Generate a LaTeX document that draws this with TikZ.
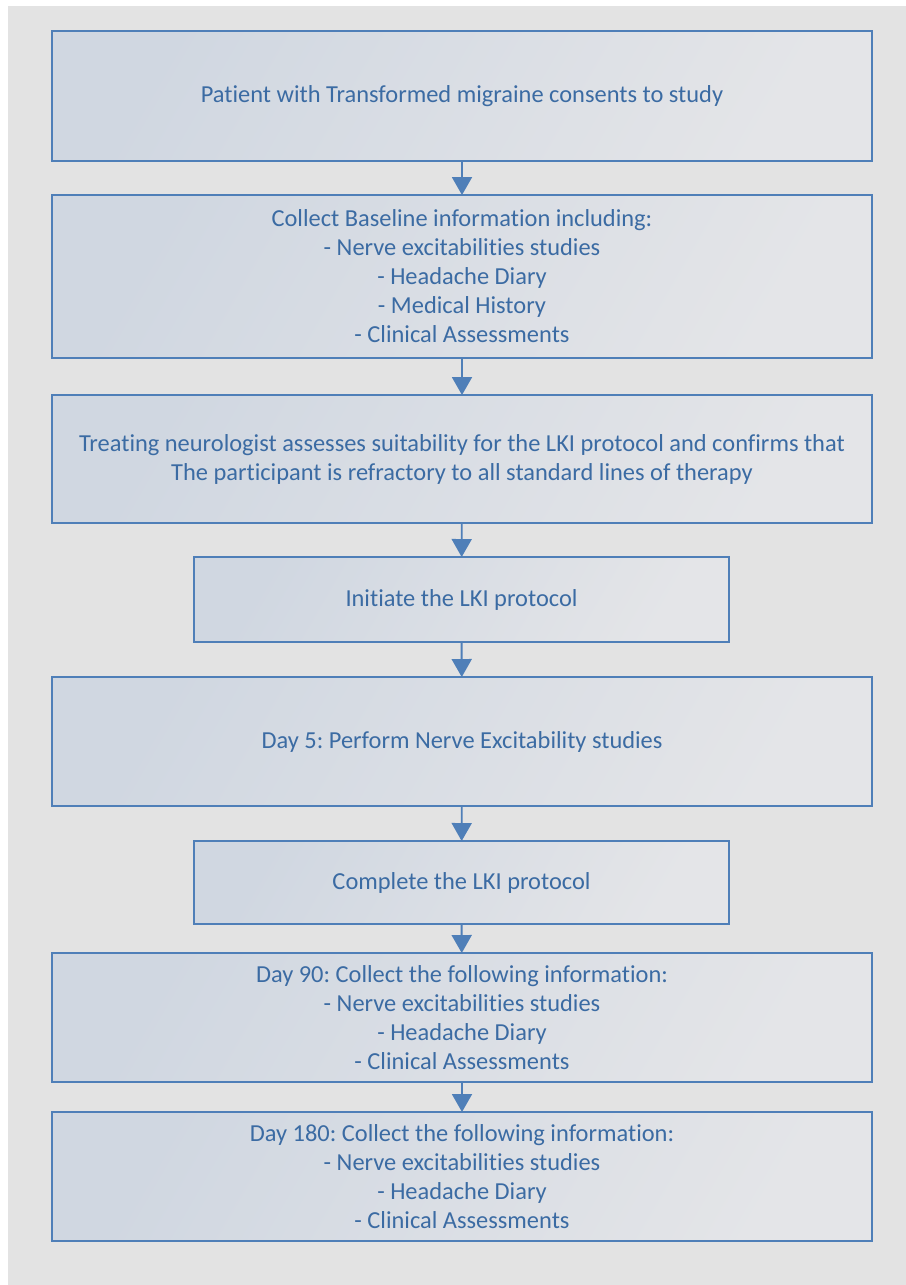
\documentclass[tikz,border=0pt]{standalone}
\usepackage{fontspec}
\setmainfont{Carlito}[Ligatures=NoCommon]
\usetikzlibrary{arrows.meta}
\definecolor{frameblue}{HTML}{4F7FB8}
\definecolor{textblue}{HTML}{3B6BA3}
\definecolor{boxdark}{HTML}{D0D7E1}
\definecolor{boxlight}{HTML}{E4E5E8}
\definecolor{pagegray}{HTML}{E3E3E3}
\frenchspacing

\begin{document}
\begin{tikzpicture}[x=0.02cm, y=-0.02cm,
  every path/.style={line width=1.1pt},
  stage/.style={draw=frameblue, text=textblue, align=center, outer sep=0pt,
    left color=boxdark, right color=boxlight, shading angle=60,
    font=\fontsize{13.9pt}{16.5pt}\selectfont, inner sep=4pt},
  wide/.style={stage, minimum width=16.4cm},
  narrow/.style={stage, minimum width=10.7cm},
  flow/.style={draw=frameblue, -{Triangle[length=0.36cm, width=0.4cm]}}]
\useasboundingbox (0,0) rectangle (906,1285);
\fill[white] (0,0) rectangle (906,1285);
\fill[pagegray] (8,6) rectangle (906,1285);
\node[wide, minimum height=2.6cm] (consent) at (462, 96) {Patient with Transformed migraine consents to study};
\node[wide, minimum height=3.26cm] (baseline) at (462, 276.5) {Collect Baseline information including:\\- Nerve excitabilities studies\\- Headache Diary\\- Medical History\\- Clinical Assessments};
\node[wide, minimum height=2.56cm] (assess) at (462, 459) {Treating neurologist assesses suitability for the LKI protocol and confirms that\\The participant is refractory to all standard lines of therapy};
\node[narrow, minimum height=1.7cm] (initiate) at (461.5, 599.5) {Initiate the LKI protocol};
\node[wide, minimum height=2.58cm] (dayfive) at (462, 741.5) {Day 5: Perform Nerve Excitability studies};
\node[narrow, minimum height=1.66cm] (complete) at (461.5, 882.5) {Complete the LKI protocol};
\node[wide, minimum height=2.58cm] (dayninety) at (462, 1017.5) {Day 90: Collect the following information:\\- Nerve excitabilities studies\\- Headache Diary\\- Clinical Assessments};
\node[wide, minimum height=2.58cm] (dayoneeighty) at (462, 1176.5) {Day 180: Collect the following information:\\- Nerve excitabilities studies\\- Headache Diary\\- Clinical Assessments};
\draw[flow] (consent) -- (baseline);
\draw[flow] (baseline) -- (assess);
\draw[flow] (assess) -- (initiate);
\draw[flow] (initiate) -- (dayfive);
\draw[flow] (dayfive) -- (complete);
\draw[flow] (complete) -- (dayninety);
\draw[flow] (dayninety) -- (dayoneeighty);
\end{tikzpicture}
\end{document}
